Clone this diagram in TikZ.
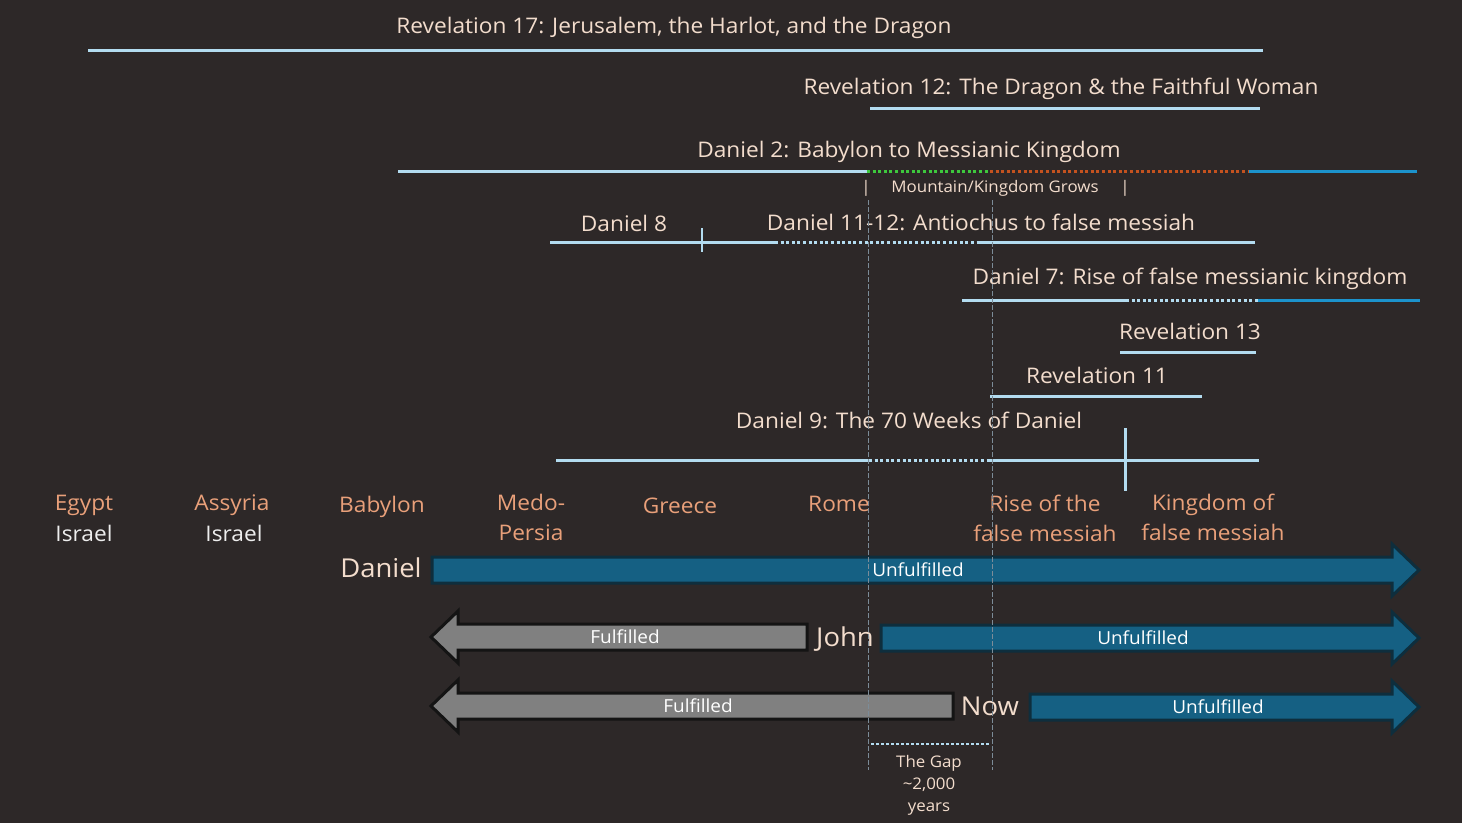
\documentclass[tikz,border=0pt]{standalone}
\usepackage{fontspec}
\setmainfont[FakeStretch=1.055]{Open Sans}
\definecolor{bg}{HTML}{2D2828}
\definecolor{peach}{HTML}{F3DDCD}
\definecolor{orng}{HTML}{E9A07A}
\definecolor{wht}{HTML}{EEEEEE}
\definecolor{lblue}{HTML}{B3DCF0}
\definecolor{dblue}{HTML}{1C93CC}
\definecolor{grn}{HTML}{3DC83D}
\definecolor{rust}{HTML}{C4521F}
\definecolor{afill}{HTML}{156083}
\definecolor{aedge}{HTML}{0E2E3D}
\definecolor{gfill}{HTML}{808080}
\definecolor{gedge}{HTML}{141414}
\definecolor{guidec}{HTML}{7C8C98}
\tikzset{
  ttl/.style={text=peach, font=\fontsize{21.5}{26}\selectfont, inner sep=0pt, anchor=base},
  lbl/.style={text=orng, font=\fontsize{21.5}{25}\selectfont, inner sep=0pt, anchor=base},
  isr/.style={text=wht, font=\fontsize{21.5}{25}\selectfont, inner sep=0pt, anchor=base},
  big/.style={text=peach, font=\fontsize{26}{30}\selectfont, inner sep=0pt, anchor=base},
  small/.style={text=peach, font=\fontsize{16}{20}\selectfont, inner sep=0pt, anchor=base},
  gapt/.style={text=peach, font=\fontsize{16}{20}\selectfont, inner sep=0pt, anchor=base},
  intext/.style={text=white, font=\fontsize{18}{20}\selectfont, inner sep=0pt, anchor=base},
  lineL/.style={draw=lblue, line width=3pt},
  dotL/.style={draw=lblue, line width=3pt, dash pattern=on 3pt off 2.6pt},
  guide/.style={draw=guidec, line width=0.9pt, dash pattern=on 5pt off 2pt},
  barrow/.style={fill=afill, draw=aedge, line width=3pt, line join=miter},
  garrow/.style={fill=gfill, draw=gedge, line width=3pt, line join=miter},
}
\newcommand\myrarr[3]{% x1, tip x, center y
  \draw[barrow] (#1,#3-13) -- (#2-27,#3-13) -- (#2-27,#3-26) -- (#2,#3) -- (#2-27,#3+26) -- (#2-27,#3+13) -- (#1,#3+13) -- cycle;}
\newcommand\mylarr[3]{% tip x, x2, center y
  \draw[garrow] (#2,#3-13) -- (#1+27,#3-13) -- (#1+27,#3-26) -- (#1,#3) -- (#1+27,#3+26) -- (#1+27,#3+13) -- (#2,#3+13) -- cycle;}
\begin{document}
\begin{tikzpicture}[x=1pt,y=-1pt]
\fill[bg] (0,0) rectangle (1462,823);
\useasboundingbox (0,0) rectangle (1462,823);

% Revelation 17
\node[ttl] (t17) at (674,33) {Revelation 17: Jerusalem, the Harlot, and the Dragon};
\coordinate (r17a) at (88,50); \coordinate (r17b) at (1263,50);
\draw[lineL] (r17a) -- (r17b);

% Revelation 12
\node[ttl] (t12) at (1061,94) {Revelation 12: The Dragon \& the Faithful Woman};
\coordinate (r12a) at (870,108); \coordinate (r12b) at (1260,108);
\draw[lineL] (r12a) -- (r12b);

% Daniel 2
\node[ttl] (d2) at (909,157) {Daniel 2: Babylon to Messianic Kingdom};
\coordinate (d2a) at (398,171); \coordinate (d2b) at (867,171);
\coordinate (d2c) at (990,171); \coordinate (d2d) at (1249,171); \coordinate (d2e) at (1417,171);
\draw[lineL] (d2a) -- (d2b);
\draw[draw=grn, line width=3pt, dash pattern=on 3pt off 2.6pt] (d2b) -- (d2c);
\draw[draw=rust, line width=3pt, dash pattern=on 3pt off 2.6pt] (d2c) -- (d2d);
\draw[draw=dblue, line width=3pt] (d2d) -- (d2e);
\node[small] (bar1) at (866,192) {|};
\node[small] (mkg) at (995,192) {Mountain/Kingdom Grows};
\node[small] (bar2) at (1125,192) {|};

% Daniel 8 and 11-12
\node[ttl] (d8) at (624,231) {Daniel 8};
\node[ttl] (d11) at (981,230) {Daniel 11-12: Antiochus to false messiah};
\coordinate (d8a) at (550,242); \coordinate (d8b) at (775,242);
\coordinate (d8c) at (977,242); \coordinate (d8d) at (1255,242);
\coordinate (d8t1) at (702,228); \coordinate (d8t2) at (702,252);
\draw[lineL] (d8a) -- (d8b);
\draw[lineL, line width=2.5pt] (d8t1) -- (d8t2);
\draw[dotL] (d8b) -- (d8c);
\draw[lineL] (d8c) -- (d8d);

% Daniel 7
\node[ttl] (d7) at (1190,284) {Daniel 7: Rise of false messianic kingdom};
\coordinate (d7a) at (962,300); \coordinate (d7b) at (1126,300);
\coordinate (d7c) at (1258,300); \coordinate (d7d) at (1420,300);
\draw[lineL] (d7a) -- (d7b);
\draw[dotL] (d7b) -- (d7c);
\draw[draw=dblue, line width=3pt] (d7c) -- (d7d);

% Revelation 13
\node[ttl] (r13) at (1190,339) {Revelation 13};
\coordinate (r13a) at (1120,352); \coordinate (r13b) at (1256,352);
\draw[lineL] (r13a) -- (r13b);

% Revelation 11
\node[ttl] (r11) at (1097,383) {Revelation 11};
\coordinate (r11a) at (990,396); \coordinate (r11b) at (1202,396);
\draw[lineL] (r11a) -- (r11b);

% Daniel 9
\node[ttl] (d9) at (909,428) {Daniel 9: The 70 Weeks of Daniel};
\coordinate (d9a) at (556,460); \coordinate (d9b) at (869,460);
\coordinate (d9c) at (989,460); \coordinate (d9d) at (1259,460);
\coordinate (d9t1) at (1125,428); \coordinate (d9t2) at (1125,491);
\draw[lineL] (d9a) -- (d9b);
\draw[dotL] (d9b) -- (d9c);
\draw[lineL] (d9c) -- (d9d);
\draw[lineL] (d9t1) -- (d9t2);

% Empire labels
\node[lbl] (egypt) at (84,510) {Egypt};
\node[isr] (isr1) at (84,541) {Israel};
\node[lbl] (assyria) at (232,510) {Assyria};
\node[isr] (isr2) at (234,541) {Israel};
\node[lbl] (babylon) at (382,512) {Babylon};
\node[lbl] (medo) at (531,510) {Medo-};
\node[lbl] (persia) at (531,540) {Persia};
\node[lbl] (greece) at (680,513) {Greece};
\node[lbl] (rome) at (839,511) {Rome};
\node[lbl] (rise1) at (1045,511) {Rise of the};
\node[lbl] (rise2) at (1045,541) {false messiah};
\node[lbl] (king1) at (1213,510) {Kingdom of};
\node[lbl] (king2) at (1213,540) {false messiah};

% Arrows
\myrarr{432}{1419}{570}
\node[intext] (u1) at (918,576) {Unfulfilled};
\node[big] (daniel) at (381,577) {Daniel};

\mylarr{431}{807}{637}
\node[intext] (f2) at (625,643) {Fulfilled};
\node[big] (john) at (845,646) {John};
\myrarr{881}{1419}{638}
\node[intext] (u2) at (1143,644) {Unfulfilled};

\mylarr{431}{953}{706}
\node[intext] (f3) at (698,712) {Fulfilled};
\node[big] (now) at (990,715) {Now};
\myrarr{1030}{1419}{707}
\node[intext] (u3) at (1218,713) {Unfulfilled};

% Gap
\coordinate (ga) at (871,744); \coordinate (gb) at (990,744);
\draw[draw=lblue, line width=2.5pt, dash pattern=on 2.5pt off 2.5pt] (ga) -- (gb);
\node[gapt] (gap1) at (929,767) {The Gap};
\node[gapt] (gap2) at (929,789) {\char`\~2,000};
\node[gapt] (gap3) at (929,811) {years};

% Guide lines
\coordinate (g1a) at (868,200); \coordinate (g1b) at (868,770);
\coordinate (g2a) at (992,200); \coordinate (g2b) at (992,770);
\draw[guide] (g1a) -- (g1b);
\draw[guide] (g2a) -- (g2b);
\end{tikzpicture}
\end{document}
